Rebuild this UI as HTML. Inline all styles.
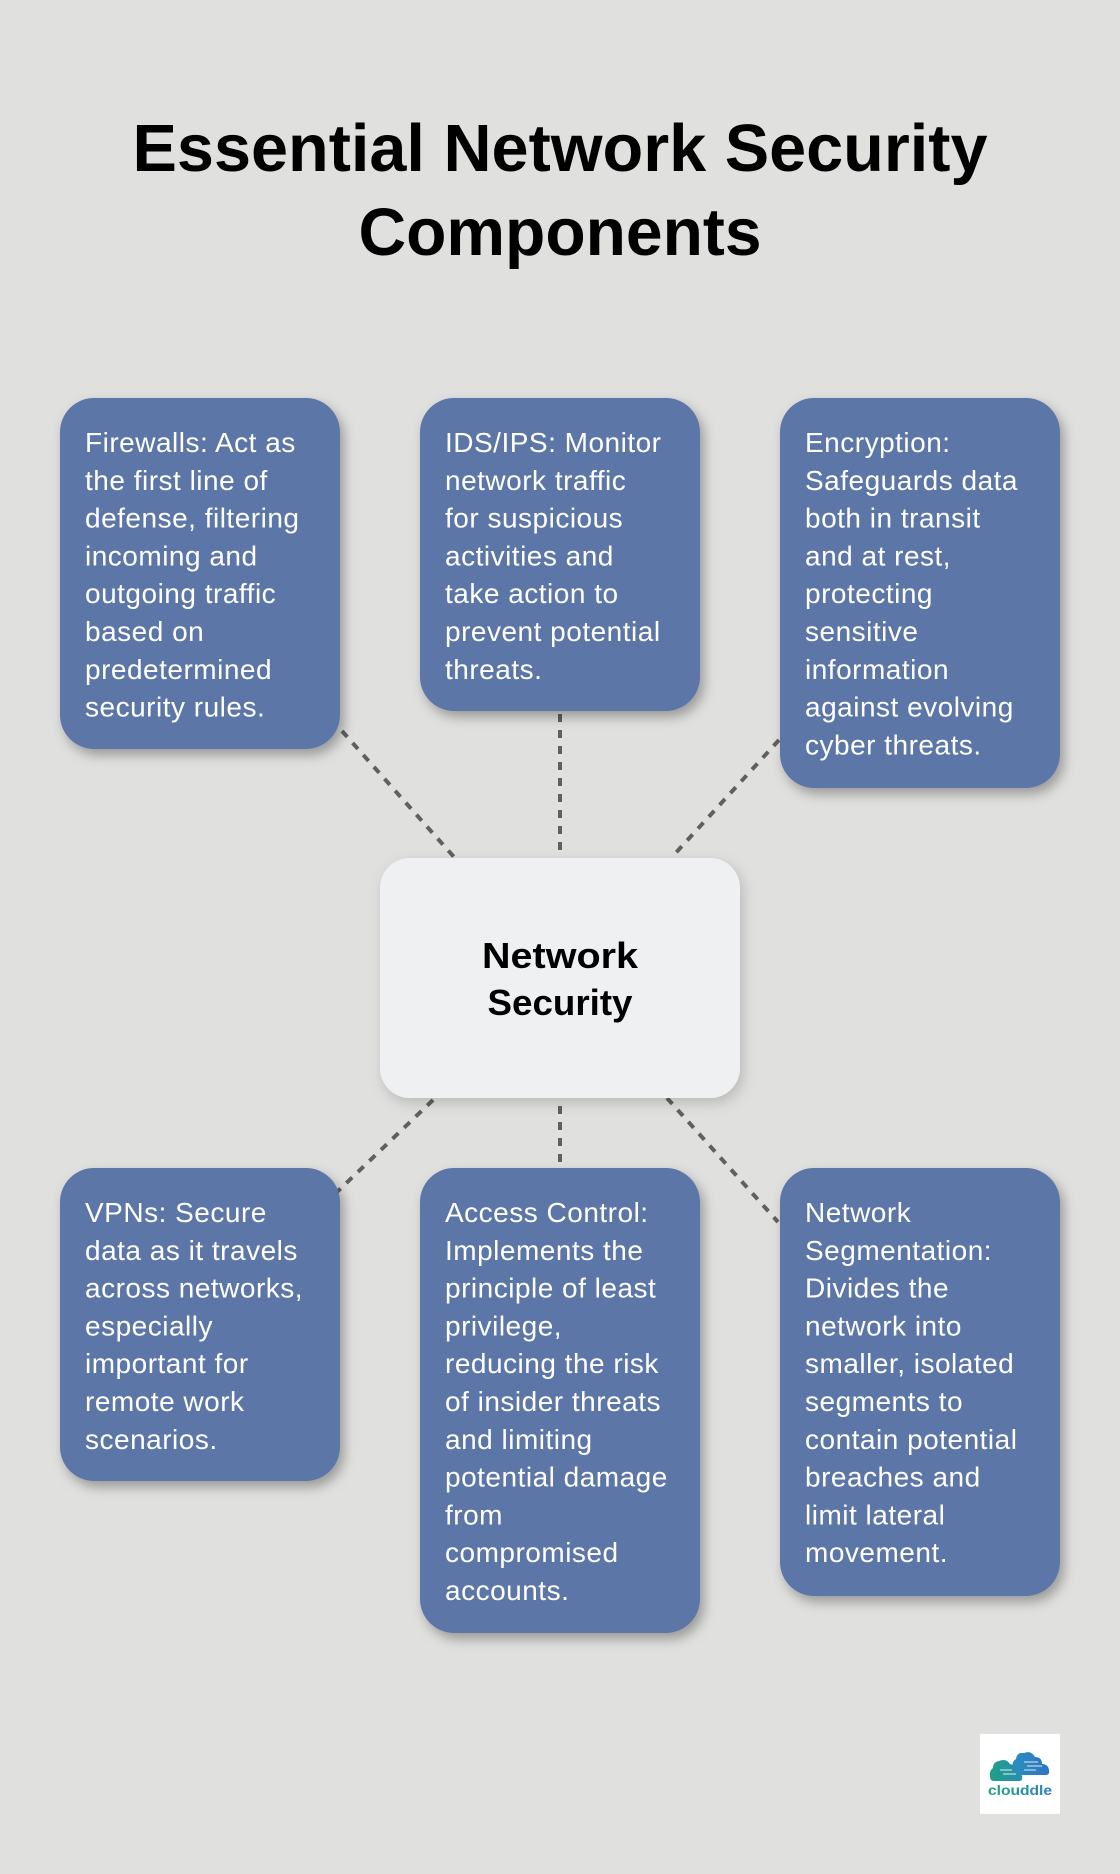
<!DOCTYPE html>
<html>
<head>
<meta charset="utf-8">
<style>
  html, body { margin: 0; padding: 0; background: #e0e1df; }
  svg { display: block; }
  .t { font-family: "Liberation Sans", sans-serif; font-weight: bold; fill: #000; }
  .b { font-family: "Liberation Sans", sans-serif; font-size: 28px; letter-spacing: 0.5px; fill: #ffffff; }
</style>
</head>
<body>
<svg width="1120" height="1874" viewBox="0 0 1120 1874" xmlns="http://www.w3.org/2000/svg">
  <defs>
    <filter id="sh" x="-20%" y="-20%" width="140%" height="140%">
      <feDropShadow dx="4" dy="6" stdDeviation="6" flood-color="#000" flood-opacity="0.32"/>
    </filter>
    <filter id="sh2" x="-20%" y="-20%" width="140%" height="140%">
      <feDropShadow dx="3" dy="5" stdDeviation="7" flood-color="#000" flood-opacity="0.18"/>
    </filter>
    <linearGradient id="lg1" x1="0" y1="0" x2="1" y2="0">
      <stop offset="0" stop-color="#1fa67a"/>
      <stop offset="1" stop-color="#2b7fc4"/>
    </linearGradient>
    <linearGradient id="lg2" x1="0" y1="0" x2="1" y2="0">
      <stop offset="0" stop-color="#1f9f86"/>
      <stop offset="1" stop-color="#2a8cb5"/>
    </linearGradient>
    <linearGradient id="lg3" x1="0" y1="0" x2="1" y2="0">
      <stop offset="0" stop-color="#2a8fbf"/>
      <stop offset="1" stop-color="#2f74c2"/>
    </linearGradient>
  </defs>

  <rect x="0" y="0" width="1120" height="1874" fill="#e0e1df"/>

  <!-- Title -->
  <text class="t" x="560" y="171" font-size="67" text-anchor="middle" textLength="855" lengthAdjust="spacingAndGlyphs">Essential Network Security</text>
  <text class="t" x="560" y="255" font-size="67" text-anchor="middle" textLength="403" lengthAdjust="spacingAndGlyphs">Components</text>

  <!-- Connectors -->
  <g stroke="#606060" stroke-width="4" stroke-dasharray="8 8" fill="none">
    <line x1="342" y1="731" x2="454" y2="857"/>
    <line x1="560" y1="714" x2="560" y2="852"/>
    <line x1="779" y1="740" x2="672" y2="857"/>
    <line x1="433" y1="1100" x2="337" y2="1192"/>
    <line x1="560" y1="1106" x2="560" y2="1162"/>
    <line x1="667" y1="1098" x2="778" y2="1222"/>
  </g>

  <!-- Boxes -->
  <g fill="#5d76a8" filter="url(#sh)">
    <rect x="60" y="398" width="280" height="351" rx="34" ry="34"/>
    <rect x="420" y="398" width="280" height="313" rx="34" ry="34"/>
    <rect x="780" y="398" width="280" height="390" rx="34" ry="34"/>
    <rect x="60" y="1168" width="280" height="313" rx="34" ry="34"/>
    <rect x="420" y="1168" width="280" height="465" rx="34" ry="34"/>
    <rect x="780" y="1168" width="280" height="428" rx="34" ry="34"/>
  </g>

  <!-- Center box -->
  <rect x="380" y="858" width="360" height="240" rx="30" ry="30" fill="#eff0f2" filter="url(#sh2)"/>
  <text class="t" x="560" y="968" font-size="36" text-anchor="middle" textLength="156" lengthAdjust="spacingAndGlyphs">Network</text>
  <text class="t" x="560" y="1015" font-size="36" text-anchor="middle" textLength="145" lengthAdjust="spacingAndGlyphs">Security</text>

  <!-- Box 1 text -->
  <g class="b">
    <text x="85" y="452">Firewalls: Act as</text>
    <text x="85" y="489.8">the first line of</text>
    <text x="85" y="527.6">defense, filtering</text>
    <text x="85" y="565.4">incoming and</text>
    <text x="85" y="603.2">outgoing traffic</text>
    <text x="85" y="641">based on</text>
    <text x="85" y="678.8">predetermined</text>
    <text x="85" y="716.6">security rules.</text>
  </g>

  <!-- Box 2 text -->
  <g class="b">
    <text x="445" y="452">IDS/IPS: Monitor</text>
    <text x="445" y="489.8">network traffic</text>
    <text x="445" y="527.6">for suspicious</text>
    <text x="445" y="565.4">activities and</text>
    <text x="445" y="603.2">take action to</text>
    <text x="445" y="641">prevent potential</text>
    <text x="445" y="678.8">threats.</text>
  </g>

  <!-- Box 3 text -->
  <g class="b">
    <text x="805" y="452">Encryption:</text>
    <text x="805" y="489.8">Safeguards data</text>
    <text x="805" y="527.6">both in transit</text>
    <text x="805" y="565.4">and at rest,</text>
    <text x="805" y="603.2">protecting</text>
    <text x="805" y="641">sensitive</text>
    <text x="805" y="678.8">information</text>
    <text x="805" y="716.6">against evolving</text>
    <text x="805" y="754.4">cyber threats.</text>
  </g>

  <!-- Box 4 text -->
  <g class="b">
    <text x="85" y="1222">VPNs: Secure</text>
    <text x="85" y="1259.8">data as it travels</text>
    <text x="85" y="1297.6">across networks,</text>
    <text x="85" y="1335.4">especially</text>
    <text x="85" y="1373.2">important for</text>
    <text x="85" y="1411">remote work</text>
    <text x="85" y="1448.8">scenarios.</text>
  </g>

  <!-- Box 5 text -->
  <g class="b">
    <text x="445" y="1222">Access Control:</text>
    <text x="445" y="1259.8">Implements the</text>
    <text x="445" y="1297.6">principle of least</text>
    <text x="445" y="1335.4">privilege,</text>
    <text x="445" y="1373.2">reducing the risk</text>
    <text x="445" y="1411">of insider threats</text>
    <text x="445" y="1448.8">and limiting</text>
    <text x="445" y="1486.6">potential damage</text>
    <text x="445" y="1524.4">from</text>
    <text x="445" y="1562.2">compromised</text>
    <text x="445" y="1600">accounts.</text>
  </g>

  <!-- Box 6 text -->
  <g class="b">
    <text x="805" y="1222">Network</text>
    <text x="805" y="1259.8">Segmentation:</text>
    <text x="805" y="1297.6">Divides the</text>
    <text x="805" y="1335.4">network into</text>
    <text x="805" y="1373.2">smaller, isolated</text>
    <text x="805" y="1411">segments to</text>
    <text x="805" y="1448.8">contain potential</text>
    <text x="805" y="1486.6">breaches and</text>
    <text x="805" y="1524.4">limit lateral</text>
    <text x="805" y="1562.2">movement.</text>
  </g>

  <!-- Logo -->
  <rect x="980" y="1734" width="80" height="80" fill="#ffffff"/>
  <path d="M1016 1775 L1046 1775 Q1050 1775 1049 1770 Q1048 1764 1042 1764 Q1042 1757 1035 1757 Q1031 1750 1024 1753 Q1017 1752 1016 1759 Q1011 1762 1013 1768 Q1012 1775 1016 1775 Z" fill="url(#lg3)"/>
  <path d="M994 1781 L1019 1781 Q1023 1781 1022 1776 Q1021 1771 1016 1771 Q1016 1765 1010 1764 Q1006 1758 999 1761 Q993 1762 993 1768 Q989 1771 990 1776 Q990 1781 994 1781 Z" fill="url(#lg2)"/>
  <g stroke="#ffffff" stroke-width="1" fill="none" opacity="0.85">
    <line x1="1000" y1="1770" x2="1012" y2="1770"/>
    <line x1="1003" y1="1774" x2="1016" y2="1774"/>
    <line x1="1024" y1="1762" x2="1038" y2="1762"/>
    <line x1="1027" y1="1766" x2="1042" y2="1766"/>
    <line x1="1024" y1="1770" x2="1036" y2="1770"/>
  </g>
  <text x="1020" y="1795" font-family="Liberation Sans, sans-serif" font-weight="bold" font-size="14" text-anchor="middle" textLength="64" lengthAdjust="spacingAndGlyphs" fill="url(#lg1)">clouddle</text>
</svg>
</body>
</html>
